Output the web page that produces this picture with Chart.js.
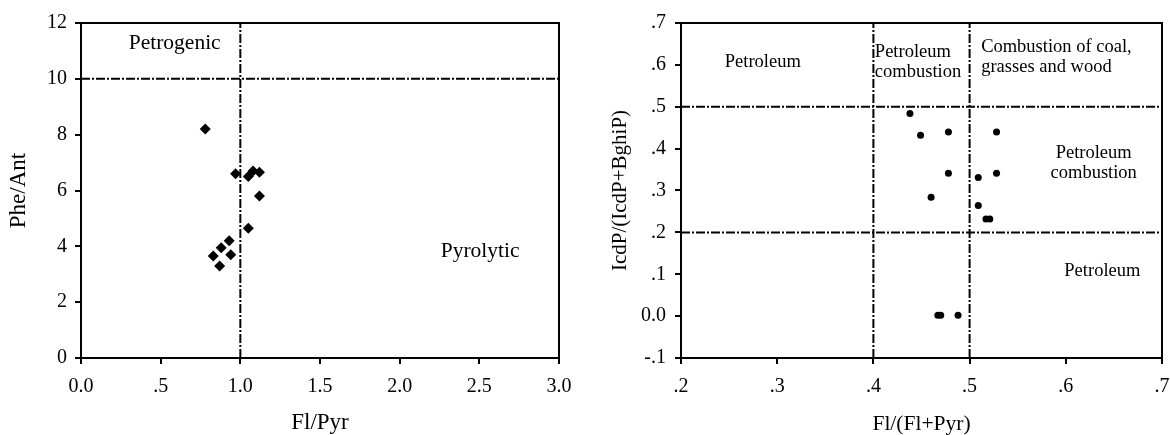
<!DOCTYPE html>
<html>
<head>
<meta charset="utf-8">
<script src="https://cdn.jsdelivr.net/npm/chart.js@4.4.0/dist/chart.umd.min.js"></script>
<style>
  body { margin: 0; background: #fff; overflow: hidden; }
  .box { position: absolute; top: 0; width: 585px; height: 435px; }
</style>
</head>
<body>
<div class="box" style="left:0"><canvas id="leftChart" width="585" height="435"></canvas></div>
<div class="box" style="left:585px"><canvas id="rightChart" width="585" height="435"></canvas></div>
<script>
// left chart: Phe/Ant vs Fl/Pyr
var flPyr  = [0.78, 0.97, 1.05, 1.08, 1.12, 1.12, 1.05, 0.93, 0.88, 0.83, 0.94, 0.87];
var pheAnt = [8.2, 6.6, 6.5, 6.7, 6.65, 5.8, 4.65, 4.2, 3.95, 3.65, 3.7, 3.3];
var leftXTicks = [0, 0.5, 1, 1.5, 2, 2.5, 3];
var leftXLabels = ['0.0', '.5', '1.0', '1.5', '2.0', '2.5', '3.0'];
var leftYTicks = [0, 2, 4, 6, 8, 10, 12];
var leftYLabels = ['0', '2', '4', '6', '8', '10', '12'];
var leftCutX = [1];
var leftCutY = [10];

// right chart: IcdP/(IcdP+BghiP) vs Fl/(Fl+Pyr)
var flRatio = [0.438, 0.449, 0.478, 0.528, 0.478, 0.528, 0.509, 0.46, 0.509, 0.517, 0.521, 0.467, 0.47, 0.488];
var icdRatio = [0.484, 0.432, 0.44, 0.44, 0.341, 0.341, 0.331, 0.284, 0.264, 0.232, 0.232, 0.002, 0.002, 0.002];
var rightXTicks = [0.2, 0.3, 0.4, 0.5, 0.6, 0.7];
var rightXLabels = ['.2', '.3', '.4', '.5', '.6', '.7'];
var rightYTicks = [-0.1, 0, 0.1, 0.2, 0.3, 0.4, 0.5, 0.6, 0.7];
var rightYLabels = ['-.1', '0.0', '.1', '.2', '.3', '.4', '.5', '.6', '.7'];
var rightCutX = [0.4, 0.5];
var rightCutY = [0.2, 0.5];

var leftNotes = [
  { text: ['Petrogenic'], x: 0.588, y: 11.26, align: 'center' },
  { text: ['Pyrolytic'], x: 2.505, y: 3.81, align: 'center' }
];
var rightNotes = [
  { text: ['Petroleum'], x: 0.285, y: 0.607, align: 'center' },
  { text: ['Petroleum', 'combustion'], x: 0.4015, y: 0.631, align: 'left' },
  { text: ['Combustion of coal,', 'grasses and wood'], x: 0.512, y: 0.643, align: 'left' },
  { text: ['Petroleum', 'combustion'], x: 0.629, y: 0.389, align: 'center' },
  { text: ['Petroleum'], x: 0.638, y: 0.107, align: 'center' }
];

var SERIF = "'Liberation Serif', 'Times New Roman', serif";
Chart.defaults.font.family = SERIF;
Chart.defaults.font.size = 20;
Chart.defaults.color = '#000';

var DASH = [9, 2, 2, 2];

function cutLines(xs, ys, xmin, xmax, ymin, ymax) {
  var sets = [];
  xs.forEach(function(v) {
    sets.push({ type: 'line', data: [{x: v, y: ymin}, {x: v, y: ymax}], borderColor: '#000',
      borderWidth: 2, borderDash: DASH, pointRadius: 0, fill: false });
  });
  ys.forEach(function(v) {
    sets.push({ type: 'line', data: [{x: xmin, y: v}, {x: xmax, y: v}], borderColor: '#000',
      borderWidth: 2, borderDash: DASH, pointRadius: 0, fill: false });
  });
  return sets;
}

var frameAndNotes = {
  id: 'frameAndNotes',
  afterDatasetsDraw: function(chart, args, opts) {
    var ctx = chart.ctx, a = chart.chartArea;
    ctx.save();
    ctx.strokeStyle = '#000';
    ctx.lineWidth = 2;
    ctx.strokeRect(a.left, a.top, a.right - a.left, a.bottom - a.top);
    ctx.fillStyle = '#000';
    ctx.font = opts.size + 'px ' + SERIF;
    ctx.textBaseline = 'middle';
    (opts.notes || []).forEach(function(n) {
      var px = chart.scales.x.getPixelForValue(n.x);
      var py = chart.scales.y.getPixelForValue(n.y);
      ctx.textAlign = n.align;
      n.text.forEach(function(line, i) {
        ctx.fillText(line, px, py + i * opts.lead);
      });
    });
    ctx.restore();
  }
};

function axis(min, max, ticks, labels, title, size, isX, pad, titleSize, titlePad) {
  return {
    type: 'linear',
    min: min,
    max: max,
    afterBuildTicks: function(s) { s.ticks = ticks.map(function(v) { return {value: v}; }); },
    afterFit: function(s) {
      // fixed box size, no extra room for overhanging end labels
      if (isX) { s.height = size; s.paddingLeft = 0; s.paddingRight = 0; }
      else { s.width = size; s.paddingTop = 0; s.paddingBottom = 0; }
    },
    ticks: {
      padding: pad,
      autoSkip: false,
      maxRotation: 0,
      callback: function(v) { var i = ticks.indexOf(v); return i >= 0 ? labels[i] : ''; }
    },
    grid: { drawOnChartArea: false, drawTicks: true, tickLength: 6, color: '#000', lineWidth: 2 },
    border: { display: true, color: '#000', width: 2 },
    title: { display: true, text: title, font: { size: titleSize }, padding: titlePad }
  };
}

new Chart(document.getElementById('leftChart'), {
  type: 'scatter',
  data: {
    datasets: [{
      data: flPyr.map(function(v, i) { return {x: v, y: pheAnt[i]}; }),
      pointStyle: 'rectRot', pointRadius: 5.5, backgroundColor: '#000', borderColor: '#000', borderWidth: 0
    }].concat(cutLines(leftCutX, leftCutY, 0, 3, 0, 12))
  },
  options: {
    responsive: false,
    animation: false,
    devicePixelRatio: 1,
    layout: { padding: { top: 23, right: 26, left: 0, bottom: 0 } },
    plugins: { legend: { display: false }, tooltip: { enabled: false },
      frameAndNotes: { notes: leftNotes, size: 21.5, lead: 21 } },
    scales: {
      x: axis(0, 3, leftXTicks, leftXLabels, 'Fl/Pyr', 77, true, 11, 23, { top: 12, bottom: -2 }),
      y: axis(0, 12, leftYTicks, leftYLabels, 'Phe/Ant', 81, false, 8, 23, { top: 5, bottom: 0 })
    }
  },
  plugins: [frameAndNotes]
});

new Chart(document.getElementById('rightChart'), {
  type: 'scatter',
  data: {
    datasets: [{
      data: flRatio.map(function(v, i) { return {x: v, y: icdRatio[i]}; }),
      pointStyle: 'circle', pointRadius: 3.5, backgroundColor: '#000', borderColor: '#000', borderWidth: 0
    }].concat(cutLines(rightCutX, rightCutY, 0.2, 0.7, -0.1, 0.7))
  },
  options: {
    responsive: false,
    animation: false,
    devicePixelRatio: 1,
    layout: { padding: { top: 23, right: 8, left: 0, bottom: 0 } },
    plugins: { legend: { display: false }, tooltip: { enabled: false },
      frameAndNotes: { notes: rightNotes, size: 18.5, lead: 20 } },
    scales: {
      x: axis(0.2, 0.7, rightXTicks, rightXLabels, 'Fl/(Fl+Pyr)', 77, true, 11, 21.5, { top: 12, bottom: -2 }),
      y: axis(-0.1, 0.7, rightYTicks, rightYLabels, 'IcdP/(IcdP+BghiP)', 96, false, 9, 21, { top: 23, bottom: 0 })
    }
  },
  plugins: [frameAndNotes]
});
</script>
</body>
</html>
